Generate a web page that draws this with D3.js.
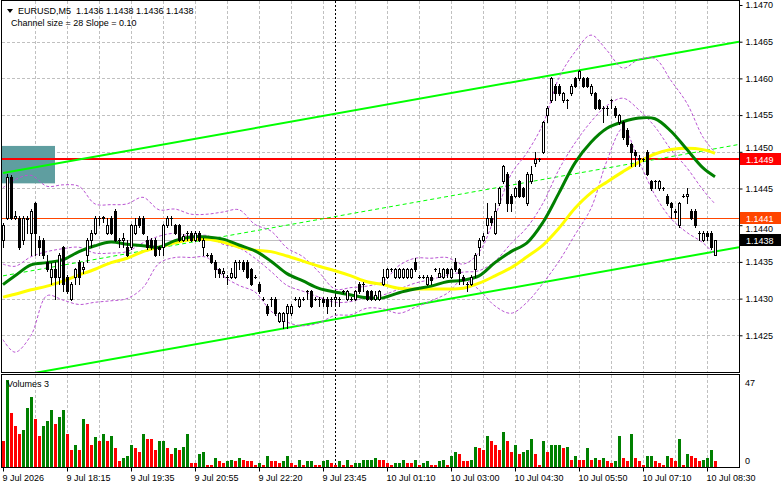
<html>
<head>
<meta charset="utf-8">
<title>EURUSD,M5</title>
<style type="text/css">
body{margin:0;background:#fff;}
svg text{font-family:"Liberation Sans",Arial,sans-serif;font-size:9px;}
</style>
<script src="https://d3js.org/d3.v7.min.js"></script>
</head>
<body>
<svg width="781" height="489"></svg>
<script>
// ---- data (EURUSD M5, 179 bars) ----
var opens = [1.1438,1.1441,1.14465,1.1441,1.1441,1.1438,1.1441,1.1439,1.1443,1.1438,
1.1438,1.1435,1.1433,1.1434,1.1433,1.1437,1.1433,1.1430,1.1433,1.1435,
1.1434,1.1436,1.1438,1.1439,1.1441,1.1441,1.1439,1.1441,1.1442,1.1438,
1.1438,1.1437,1.1437,1.1439,1.1441,1.1441,1.1438,1.1438,1.1438,1.1437,
1.1437,1.1440,1.1441,1.1440,1.1440,1.1438,1.1439,1.1439,1.1438,1.1439,
1.1437,1.1436,1.1436,1.1435,1.1434,1.14335,1.1433,1.1433,1.1433,1.1435,
1.1435,1.1435,1.1434,1.1433,1.1432,1.1430,1.1429,1.1430,1.1430,1.1427,
1.1427,1.1428,1.1428,1.1430,1.1429,1.1430,1.1431,1.1431,1.1430,1.1430,
1.1430,1.1430,1.1430,1.1430,1.1430,1.1431,1.1430,1.1430,1.1430,1.1432,
1.1432,1.1431,1.1431,1.1430,1.1430,1.1432,1.1433,1.1434,1.1433,1.1433,
1.1433,1.1433,1.1433,1.1435,1.1433,1.1433,1.1432,1.1433,1.1434,1.1433,
1.1433,1.1434,1.1433,1.1435,1.1434,1.1433,1.1432,1.1432,1.1434,1.1437,
1.1438,1.1440,1.1441,1.1439,1.1443,1.1446,1.1447,1.1444,1.1444,1.1446,
1.1445,1.1443,1.1446,1.14485,1.1449,1.1450,1.1455,1.1457,1.1459,1.1459,
1.1457,1.1457,1.1458,1.1460,1.1460,1.1460,1.1460,1.1458,1.1458,1.1457,
1.1456,1.1456,1.1457,1.1456,1.1454,1.1454,1.1453,1.1451,1.1450,1.1449,
1.1449,1.1450,1.1446,1.1446,1.1445,1.1445,1.1444,1.1443,1.1442,1.1440,
1.1444,1.1444,1.1442,1.1442,1.1439,1.1438,1.1439,1.1439,1.1436];

var highs = [1.14403,1.1447,1.14468,1.1442,1.14412,1.14412,1.14412,1.14422,1.14432,1.14385,
1.14382,1.1436,1.14348,1.1435,1.14362,1.14372,1.14332,1.14322,1.14342,1.14352,
1.1435,1.14382,1.14393,1.14412,1.14412,1.14412,1.1441,1.14412,1.14422,1.14383,
1.1439,1.1438,1.14402,1.1441,1.14412,1.14412,1.14385,1.14382,1.14382,1.14372,
1.14402,1.14412,1.14412,1.14402,1.14402,1.14388,1.14392,1.14392,1.14392,1.14392,
1.14382,1.14362,1.14362,1.14352,1.14342,1.14342,1.14332,1.14342,1.14352,1.14352,
1.14352,1.14352,1.14342,1.14332,1.14322,1.14302,1.14292,1.14302,1.14302,1.14282,
1.14282,1.14292,1.14292,1.14302,1.14302,1.14302,1.14312,1.14312,1.14302,1.14302,
1.14302,1.14302,1.14302,1.14305,1.14302,1.14312,1.14312,1.14302,1.14312,1.14322,
1.14322,1.14312,1.14312,1.1431,1.14312,1.1434,1.14342,1.14342,1.14342,1.14342,
1.14342,1.14342,1.14342,1.14355,1.14332,1.14332,1.14332,1.14332,1.14342,1.14342,
1.14342,1.14342,1.14342,1.14355,1.14342,1.14332,1.14322,1.14332,1.14362,1.14382,
1.1439,1.1443,1.14412,1.1443,1.14452,1.14482,1.14472,1.14442,1.14452,1.14462,
1.14452,1.14472,1.1448,1.1450,1.14492,1.14542,1.14562,1.14602,1.14592,1.14592,
1.14582,1.14572,1.14592,1.14602,1.14612,1.14602,1.14602,1.14592,1.14582,1.14572,
1.14562,1.14562,1.14572,1.14562,1.14552,1.14542,1.14532,1.14512,1.14502,1.14495,
1.14492,1.14502,1.14462,1.14462,1.14462,1.14452,1.14442,1.14432,1.14422,1.14432,
1.14442,1.1445,1.14422,1.14422,1.14392,1.14392,1.14392,1.14392,1.1438];

var lows = [1.1437,1.14408,1.14408,1.14408,1.14368,1.14375,1.1439,1.1436,1.1436,1.1436,
1.14355,1.14338,1.1432,1.1430,1.1432,1.1431,1.14308,1.14298,1.1432,1.1432,
1.14335,1.1435,1.1437,1.14388,1.1440,1.14405,1.14388,1.14388,1.14378,1.1437,
1.1437,1.14358,1.14368,1.14388,1.14398,1.14388,1.14368,1.14368,1.14358,1.1436,
1.1436,1.14398,1.1440,1.14388,1.14378,1.14378,1.1438,1.14378,1.14378,1.14378,
1.1436,1.14358,1.14348,1.1433,1.1433,1.1433,1.1432,1.14328,1.14328,1.1434,
1.14338,1.14328,1.14318,1.14328,1.14308,1.14298,1.14278,1.1429,1.14278,1.14268,
1.1426,1.1426,1.14278,1.14298,1.14288,1.14298,1.1430,1.14288,1.14298,1.1429,
1.1429,1.1428,1.1429,1.14292,1.1429,1.14308,1.14298,1.14298,1.14298,1.14308,
1.1431,1.14298,1.14298,1.14298,1.14298,1.14318,1.14328,1.14338,1.14328,1.14328,
1.14328,1.14328,1.14328,1.14338,1.14328,1.14328,1.14318,1.1432,1.14338,1.1433,
1.14328,1.1433,1.14328,1.14338,1.1432,1.1432,1.1431,1.14318,1.1433,1.1436,
1.14378,1.1439,1.1440,1.14388,1.14428,1.14458,1.1442,1.1442,1.14438,1.14438,
1.14438,1.14428,1.14458,1.1448,1.14488,1.14498,1.1454,1.14568,1.1457,1.14578,
1.14568,1.1456,1.14578,1.14588,1.14598,1.14588,1.14588,1.14578,1.14558,1.14558,
1.1454,1.1455,1.1456,1.14548,1.14538,1.14518,1.14508,1.1448,1.1448,1.1448,
1.14488,1.14468,1.14448,1.1445,1.14448,1.14448,1.14428,1.1441,1.1441,1.14398,
1.14438,1.1443,1.14408,1.14398,1.1438,1.14378,1.1438,1.14368,1.1436];

var closes = [1.1440,1.14465,1.1441,1.14412,1.1437,1.1441,1.14408,1.1442,1.1439,1.1437,
1.1436,1.1434,1.1434,1.1433,1.1436,1.1432,1.1431,1.1432,1.1434,1.1433,
1.14343,1.1438,1.1439,1.1441,1.1441,1.14411,1.1440,1.1439,1.1438,1.1438,
1.14382,1.1436,1.1440,1.1440,1.1440,1.1439,1.1437,1.1437,1.1436,1.14368,
1.1440,1.1441,1.1441,1.1439,1.1438,1.14385,1.1439,1.1438,1.1439,1.1438,
1.1438,1.1436,1.1435,1.1434,1.14335,1.14338,1.1433,1.14335,1.1435,1.1435,
1.1434,1.1433,1.1432,1.1433,1.1431,1.1430,1.1428,1.1430,1.1428,1.1428,
1.1428,1.1429,1.1429,1.1430,1.1430,1.1430,1.1431,1.1429,1.1430,1.1430,
1.14295,1.1429,1.1430,1.14302,1.1430,1.1431,1.1431,1.1430,1.1431,1.1431,
1.1432,1.1430,1.1430,1.14305,1.1431,1.1433,1.1434,1.1434,1.1434,1.1434,
1.1434,1.1434,1.1434,1.1434,1.1433,1.1433,1.1433,1.14325,1.1434,1.14335,
1.1434,1.14335,1.1434,1.1434,1.14335,1.14325,1.1432,1.1433,1.1436,1.1438,
1.14385,1.1441,1.14405,1.1442,1.1445,1.1448,1.1443,1.1443,1.1445,1.1444,
1.1444,1.1447,1.1447,1.1449,1.1449,1.1454,1.1456,1.1460,1.1458,1.1458,
1.1458,1.1457,1.1459,1.1459,1.1461,1.1459,1.1459,1.1459,1.1456,1.1456,
1.1456,1.1456,1.1457,1.1455,1.1455,1.1452,1.1451,1.1450,1.14495,1.14492,
1.1449,1.1447,1.1445,1.1446,1.1446,1.1445,1.1443,1.14425,1.14418,1.1443,
1.1444,1.14442,1.1441,1.1440,1.1439,1.1439,1.14385,1.1437,1.1438];

var volumes = [14,47,29,22,18,20,32,38,26,17,
22,25,31,23,27,31,18,9,12,9,
26,23,12,16,14,18,14,17,10,3,
5,6,12,10,8,18,15,15,9,14,
14,10,7,10,9,11,18,2,2,7,
8,1,1,5,3,2,3,4,3,5,
4,3,3,1,2,1,6,3,3,2,
3,6,2,1,4,1,3,3,1,1,
3,4,2,1,3,1,4,1,2,2,
4,4,4,5,4,4,2,1,2,2,
4,2,2,4,1,2,3,1,1,3,
4,1,6,8,7,3,3,4,11,10,
9,17,14,12,9,19,14,8,12,7,
8,9,15,7,1,14,8,12,12,12,
10,11,4,6,4,4,10,4,5,4,
5,3,2,3,17,5,3,18,5,3,
1,6,6,3,2,1,6,5,3,15,
1,7,6,5,3,4,5,9,3];

// indicator lines, read at these bars
var lineBars = [0,3,7,11,15,19,23,27,31,35,39,43,47,51,55,59,63,67,71,75,79,83,87,91,95,99,103,107,111,115,119,123,127,131,135,139,143,147,151,155,159,163,167,171,175,178];
var maFast = [1.14319,1.14331,1.14346,1.14349,1.14353,1.14364,1.14372,1.14377,1.14374,1.14372,1.14370,1.14379,1.14384,1.14384,1.14381,1.14373,1.14365,1.14351,1.14334,1.14324,1.14314,1.14309,1.14305,1.14301,1.14301,1.14308,1.14313,1.14317,1.14323,1.14325,1.14331,1.14349,1.14364,1.14376,1.14404,1.14444,1.14485,1.14513,1.14532,1.14541,1.14546,1.14545,1.14528,1.14503,1.14478,1.14466];
var maSlow = [1.14302,1.14306,1.14312,1.14317,1.14324,1.14332,1.14340,1.14349,1.14355,1.14364,1.14370,1.14376,1.14380,1.14381,1.14377,1.14370,1.14366,1.14364,1.14358,1.14351,1.14344,1.14338,1.14331,1.14323,1.14319,1.14314,1.14313,1.14313,1.14313,1.14314,1.14321,1.14331,1.14342,1.14357,1.14373,1.14396,1.14423,1.14444,1.14459,1.14473,1.14486,1.14497,1.14503,1.14505,1.14503,1.14498];
var bbUpper = [1.14451,1.14462,1.14468,1.14453,1.14455,1.14453,1.14429,1.14428,1.14429,1.14438,1.14421,1.14422,1.14415,1.14415,1.14418,1.14421,1.14401,1.14392,1.14369,1.14357,1.14336,1.14313,1.14315,1.14317,1.14323,1.14345,1.14355,1.14355,1.14356,1.14347,1.14363,1.14412,1.14469,1.14499,1.14538,1.14601,1.14636,1.14659,1.14638,1.14614,1.14626,1.14627,1.14597,1.14566,1.14520,1.14499];
var bbMiddle = [1.14347,1.14344,1.14357,1.14364,1.14368,1.14370,1.14362,1.14362,1.14364,1.14376,1.14385,1.14389,1.14385,1.14386,1.14374,1.14369,1.14355,1.14337,1.14318,1.14310,1.14302,1.14295,1.14296,1.14302,1.14305,1.14313,1.14321,1.14326,1.14332,1.14336,1.14338,1.14351,1.14375,1.14397,1.14430,1.14476,1.14512,1.14541,1.14563,1.14573,1.14557,1.14534,1.14503,1.14478,1.14448,1.14429];
var bbLower = [1.14244,1.14227,1.14250,1.14304,1.14298,1.14292,1.14295,1.14297,1.14300,1.14315,1.14348,1.14356,1.14356,1.14356,1.14331,1.14318,1.14309,1.14283,1.14268,1.14263,1.14267,1.14277,1.14278,1.14287,1.14286,1.14280,1.14288,1.14297,1.14307,1.14326,1.14312,1.14290,1.14280,1.14295,1.14321,1.14351,1.14387,1.14423,1.14488,1.14532,1.14487,1.14441,1.14409,1.14390,1.14376,1.14359];

var channelBars = [0, 184];
var channelUpper = [1.14471, 1.14650];
var channelSize = 0.0028;
var boxBars = [-0.25, 13];
var boxPrices = [1.14457, 1.14508];
var levelPrices = [1.1449, 1.1441, 1.1438];
var separatorBar = 83;

var priceTicks = [1.1425,1.1430,1.1435,1.1440,1.1445,1.1450,1.1455,1.1460,1.1465,1.1470];
var timeBars = [0,16,32,48,64,80,96,112,128,144,160,176];
var timeLabels = ["9 Jul 2026","9 Jul 18:15","9 Jul 19:35","9 Jul 20:55","9 Jul 22:20","9 Jul 23:45",
                  "10 Jul 01:10","10 Jul 03:00","10 Jul 04:30","10 Jul 05:50","10 Jul 07:10","10 Jul 08:30"];
var volumeTicks = [0, 47];

// ---- layout ----
var svg = d3.select("svg");
var x = d3.scaleLinear().domain([0, 184]).range([3, 739]);
var y = d3.scaleLinear().domain([1.1420, 1.1470]).range([372, 5]);
var vy = d3.scaleLinear().domain([0, 47]).range([467, 380]);
var snap = v => Math.round(v) + 0.5;

svg.append("rect").attr("width", 781).attr("height", 489).attr("fill", "#fff");

var defs = svg.append("defs");
defs.append("clipPath").attr("id", "mainClip").append("rect")
    .attr("x", 2).attr("y", 1).attr("width", 737).attr("height", 371);
defs.append("clipPath").attr("id", "volClip").append("rect")
    .attr("x", 2).attr("y", 375).attr("width", 737).attr("height", 92);

var main = svg.append("g").attr("clip-path", "url(#mainClip)");
var vol = svg.append("g").attr("clip-path", "url(#volClip)");

// grid
var gridBars = d3.range(8, 177, 8);
[[main, 1, 372], [vol, 375, 467]].forEach(function(p) {
    p[0].append("g").selectAll("line").data(gridBars).join("line")
        .attr("x1", d => snap(x(d))).attr("x2", d => snap(x(d)))
        .attr("y1", p[1]).attr("y2", p[2])
        .attr("stroke", "#c0c0c0").attr("stroke-dasharray", "3,2");
    p[0].append("line")
        .attr("x1", snap(x(separatorBar))).attr("x2", snap(x(separatorBar)))
        .attr("y1", p[1]).attr("y2", p[2])
        .attr("stroke", "#000").attr("stroke-dasharray", "2,2");
});
main.append("g").selectAll("line").data(priceTicks.slice(0, -1)).join("line")
    .attr("x1", 2).attr("x2", 739)
    .attr("y1", d => snap(y(d))).attr("y2", d => snap(y(d)))
    .attr("stroke", "#c0c0c0").attr("stroke-dasharray", "3,2");

// rectangle object
main.append("rect")
    .attr("x", x(boxBars[0])).attr("width", x(boxBars[1]) - x(boxBars[0]))
    .attr("y", y(boxPrices[1])).attr("height", y(boxPrices[0]) - y(boxPrices[1]))
    .attr("fill", "#5f9ea0");

// horizontal levels
var levelStroke = ["#ff0000", "#ff4500", "#c0c0c0"];
var levelWidth = [2, 1, 1];
main.append("g").selectAll("line").data(levelPrices).join("line")
    .attr("x1", 2).attr("x2", 739)
    .attr("y1", (d, i) => levelWidth[i] === 2 ? Math.round(y(d)) : snap(y(d)))
    .attr("y2", (d, i) => levelWidth[i] === 2 ? Math.round(y(d)) : snap(y(d)))
    .attr("stroke", (d, i) => levelStroke[i]).attr("stroke-width", (d, i) => levelWidth[i]);

// channel
var chan = [0, channelSize / 2, channelSize].map(off => channelBars.map((b, i) => ({b: b, p: channelUpper[i] - off})));
var straight = d3.line().x(d => x(d.b)).y(d => y(d.p));
main.append("g").selectAll("path").data(chan).join("path")
    .attr("d", straight).attr("fill", "none").attr("stroke", "#00ff00")
    .attr("stroke-width", (d, i) => i === 1 ? 1 : 2)
    .attr("stroke-dasharray", (d, i) => i === 1 ? "4,3" : null);

// indicators
var smooth = d3.line().x(d => x(d.b)).y(d => y(d.p)).curve(d3.curveCatmullRom.alpha(0.5));
var asPts = arr => lineBars.map((b, i) => ({b: b, p: arr[i]}));
main.append("g").selectAll("path").data([bbUpper, bbMiddle, bbLower].map(asPts)).join("path")
    .attr("d", smooth).attr("fill", "none").attr("stroke", "#ba55d3")
    .attr("stroke-width", 1).attr("stroke-dasharray", "3,2");
main.append("path").attr("d", smooth(asPts(maSlow)))
    .attr("fill", "none").attr("stroke", "#ffff00").attr("stroke-width", 3);
main.append("path").attr("d", smooth(asPts(maFast)))
    .attr("fill", "none").attr("stroke", "#008000").attr("stroke-width", 3);

// candles
var bars = opens.map((o, i) => ({i: i, o: o, h: highs[i], l: lows[i], c: closes[i]}));
var cg = main.append("g");
cg.selectAll("line.wick").data(bars).join("line").attr("class", "wick")
    .attr("x1", d => Math.round(x(d.i)) + 0.5).attr("x2", d => Math.round(x(d.i)) + 0.5)
    .attr("y1", d => Math.round(y(d.h))).attr("y2", d => Math.round(y(d.l)) + 1)
    .attr("stroke", "#000");
cg.selectAll("rect.body").data(bars.filter(d => Math.round(y(d.o)) !== Math.round(y(d.c)))).join("rect")
    .attr("class", "body")
    .each(function(d) {
        var cx = Math.round(x(d.i)), yo = Math.round(y(d.o)), yc = Math.round(y(d.c)), r = d3.select(this);
        if (d.c > d.o) {
            r.attr("x", cx - 0.5).attr("width", 2).attr("y", yc + 0.5).attr("height", Math.max(yo - yc, 1))
             .attr("fill", "#fff").attr("stroke", "#000");
        } else {
            r.attr("x", cx - 1).attr("width", 3).attr("y", yo).attr("height", yc - yo + 1).attr("fill", "#000");
        }
    });
cg.selectAll("line.doji").data(bars.filter(d => Math.round(y(d.o)) === Math.round(y(d.c)))).join("line")
    .attr("class", "doji")
    .attr("x1", d => Math.round(x(d.i)) - 1).attr("x2", d => Math.round(x(d.i)) + 2)
    .attr("y1", d => snap(y(d.c))).attr("y2", d => snap(y(d.c)))
    .attr("stroke", "#000");

// volumes: green when rising, red when falling
var volColor = [];
volumes.forEach(function(v, i) {
    if (i === 0) volColor.push("#ff0000");
    else if (v > volumes[i - 1]) volColor.push("#008000");
    else if (v < volumes[i - 1]) volColor.push("#ff0000");
    else volColor.push(volColor[i - 1]);
});
vol.append("g").selectAll("rect").data(volumes).join("rect")
    .attr("x", (d, i) => Math.round(x(i)) - 1).attr("width", 3)
    .attr("y", d => Math.round(vy(d))).attr("height", d => 467 - Math.round(vy(d)))
    .attr("fill", (d, i) => volColor[i]);

// frames
svg.append("rect").attr("x", 1.5).attr("y", 0.5).attr("width", 738).attr("height", 372)
    .attr("fill", "none").attr("stroke", "#000");
svg.append("rect").attr("x", 1.5).attr("y", 374.5).attr("width", 738).attr("height", 93)
    .attr("fill", "none").attr("stroke", "#000");

// price axis
var pAxis = svg.append("g").attr("transform", "translate(739.5,0)")
    .call(d3.axisRight(y).tickValues(priceTicks).tickSize(3).tickPadding(3).tickFormat(d3.format(".4f")));
pAxis.select(".domain").remove();
pAxis.selectAll("text").attr("font-size", 9).attr("font-family", "Liberation Sans, Arial, sans-serif");
// labels sitting under a level box are pushed just clear of it
pAxis.selectAll(".tick").each(function(d) {
    var ty = y(d);
    var near = levelPrices.map(lp => Math.round(y(lp))).filter(ly => Math.abs(ly - ty) < 10);
    if (near.length) {
        var ly = near[0];
        var target = ty < ly ? ly - 11 : ly + 11;
        d3.select(this).select("text").attr("y", target - ty).attr("font-size", 8);
    }
});

// level labels
var labelFill = ["#ff0000", "#ff4500", "#000000"];
var lab = svg.append("g").selectAll("g").data(levelPrices).join("g")
    .attr("transform", d => "translate(740," + Math.round(y(d)) + ")");
lab.append("rect").attr("x", 0).attr("y", -6).attr("width", 41).attr("height", 12)
    .attr("fill", (d, i) => labelFill[i]);
lab.append("text").attr("x", 6).attr("y", 3.5).attr("fill", "#fff").text(d => d.toFixed(4));

// time axis
var tAxis = svg.append("g").attr("transform", "translate(0,467.5)")
    .call(d3.axisBottom(x).tickValues(timeBars).tickSize(4).tickPadding(3)
        .tickFormat((d, i) => timeLabels[i]));
tAxis.select(".domain").remove();
tAxis.selectAll("text").attr("text-anchor", "start").attr("x", -1)
    .attr("font-size", 9).attr("font-family", "Liberation Sans, Arial, sans-serif");

// volume scale labels
svg.append("g").selectAll("text").data(volumeTicks).join("text")
    .attr("x", 745).attr("y", d => d === 0 ? 464 : 386).text(d => d);

// captions
svg.append("path").attr("d", "M7,9L13,9L10,13Z").attr("fill", "#000");
svg.append("text").attr("x", 18).attr("y", 14)
    .text("EURUSD,M5  1.1436 1.1438 1.1436 1.1438").style("white-space", "pre");
svg.append("text").attr("x", 11).attr("y", 26).text("Channel size = 28 Slope = 0.10");
svg.append("text").attr("x", 7).attr("y", 387).text("Volumes 3");
</script>
</body>
</html>
